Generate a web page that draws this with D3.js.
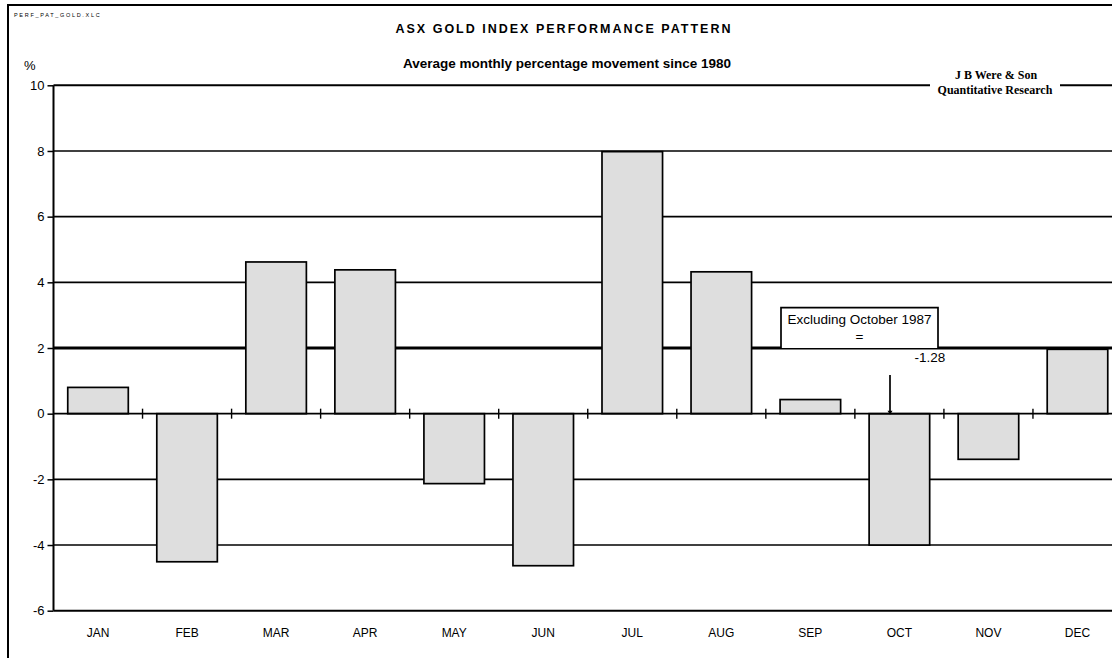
<!DOCTYPE html>
<html>
<head>
<meta charset="utf-8">
<script src="https://cdn.jsdelivr.net/npm/d3@7"></script>
<style>
  html, body { margin: 0; padding: 0; background: #fff; }
  svg { display: block; }
</style>
</head>
<body>
<svg id="chart" width="1112" height="658"></svg>
<script>
// Average monthly % movement of the ASX Gold index since 1980
const months = ["JAN","FEB","MAR","APR","MAY","JUN","JUL","AUG","SEP","OCT","NOV","DEC"];
const avgMove = [0.80, -4.51, 4.62, 4.38, -2.13, -4.63, 7.98, 4.32, 0.43, -4.00, -1.39, 1.96];
const yTicks = [10, 8, 6, 4, 2, 0, -2, -4, -6];
const octExcl1987 = -1.28;

const svg = d3.select("#chart");
const font = "'Liberation Sans', Arial, sans-serif";
const serif = "'Liberation Serif', 'Times New Roman', serif";

// outer frame (runs past the right and bottom edges)
svg.append("path")
  .attr("d", "M8,700 L8,5 L1130,5")
  .attr("fill", "none").attr("stroke", "#000").attr("stroke-width", 2);

const x = d3.scaleBand().domain(months).range([53.5, 1122])
  .paddingInner(0.32).paddingOuter(0.16);
const y = d3.scaleLinear().domain([-6, 10]).range([610.7, 85.3]);

const plotL = 53.5, plotR = 1122;

// horizontal grid lines
const grid = svg.append("g");
grid.selectAll("line").data(yTicks.filter(v => v !== 0)).join("line")
  .attr("x1", plotL).attr("x2", plotR)
  .attr("y1", d => y(d)).attr("y2", d => y(d))
  .attr("stroke", "#000")
  .attr("stroke-width", d => d === 2 ? 3 : (d === 10 || d === -6 ? 2 : 1.6));

// bars
svg.append("g").selectAll("rect").data(months).join("rect")
  .attr("x", d => x(d))
  .attr("width", x.bandwidth())
  .attr("y", (d, i) => y(Math.max(0, avgMove[i])))
  .attr("height", (d, i) => Math.abs(y(avgMove[i]) - y(0)))
  .attr("fill", "#dedede")
  .attr("stroke", "#000")
  .attr("stroke-width", 1.7);

// zero line with category separators
svg.append("line")
  .attr("x1", plotL).attr("x2", plotR)
  .attr("y1", y(0)).attr("y2", y(0))
  .attr("stroke", "#000").attr("stroke-width", 1.7);
svg.append("g").selectAll("line").data(months.slice(1)).join("line")
  .attr("x1", d => x(d) - x.step() * x.paddingInner() / 2)
  .attr("x2", d => x(d) - x.step() * x.paddingInner() / 2)
  .attr("y1", y(0) - 5).attr("y2", y(0) + 5)
  .attr("stroke", "#000").attr("stroke-width", 1.4);

// y axis
const yAxis = d3.axisLeft(y).tickValues(yTicks).tickSize(6).tickPadding(3)
  .tickFormat(d3.format("d"));
const ya = svg.append("g").attr("transform", `translate(${plotL},0)`).call(yAxis);
ya.select(".domain").attr("stroke-width", 2).attr("d", `M0,${y(10)}V${y(-6)}`);
ya.selectAll(".tick line").attr("stroke-width", 1.5);
ya.selectAll("text").attr("font-family", font).attr("font-size", 13).attr("fill", "#000")
  .text(d => d < 0 ? "-" + Math.abs(d) : d);

// month labels
svg.append("g").selectAll("text").data(months).join("text")
  .attr("x", d => x(d) + x.bandwidth() / 2)
  .attr("y", 637)
  .attr("text-anchor", "middle")
  .attr("font-family", font).attr("font-size", 12)
  .text(d => d);

// titles
svg.append("text").attr("x", 14).attr("y", 17)
  .attr("font-family", font).attr("font-size", 5.5).attr("letter-spacing", 1.7)
  .text("PERF_PAT_GOLD.XLC");
svg.append("text").attr("x", 564).attr("y", 33).attr("text-anchor", "middle")
  .attr("font-family", font).attr("font-size", 12.5).attr("font-weight", "bold")
  .attr("letter-spacing", 2.0)
  .text("ASX GOLD INDEX PERFORMANCE PATTERN");
svg.append("text").attr("x", 567).attr("y", 68).attr("text-anchor", "middle")
  .attr("font-family", font).attr("font-size", 13.5).attr("font-weight", "bold")
  .text("Average monthly percentage movement since 1980");
svg.append("text").attr("x", 24).attr("y", 70)
  .attr("font-family", font).attr("font-size", 13).text("%");

// credit block
svg.append("rect").attr("x", 930).attr("y", 66).attr("width", 130).attr("height", 32).attr("fill", "#fff");
svg.append("text").attr("x", 996).attr("y", 79).attr("text-anchor", "middle")
  .attr("font-family", serif).attr("font-size", 12).attr("font-weight", "bold")
  .text("J B Were & Son");
svg.append("text").attr("x", 995).attr("y", 94).attr("text-anchor", "middle")
  .attr("font-family", serif).attr("font-size", 12).attr("font-weight", "bold")
  .text("Quantitative Research");

// October note
const boxX = 781, boxW = 157, boxTop = 307.7;
svg.append("path")
  .attr("d", `M${boxX},${y(2)}V${boxTop}H${boxX + boxW}V${y(2)}`)
  .attr("fill", "#fff").attr("stroke", "#000").attr("stroke-width", 1.7);
svg.append("text").attr("x", boxX + boxW / 2).attr("y", 324).attr("text-anchor", "middle")
  .attr("font-family", font).attr("font-size", 13.5).text("Excluding October 1987");
svg.append("text").attr("x", boxX + boxW / 2).attr("y", 341).attr("text-anchor", "middle")
  .attr("font-family", font).attr("font-size", 13.5).text("=");
svg.append("text").attr("x", 930).attr("y", 362).attr("text-anchor", "middle")
  .attr("font-family", font).attr("font-size", 13.5).text(d3.format(".2f")(octExcl1987).replace("−", "-"));
const px = 890;
svg.append("line").attr("x1", px).attr("x2", px).attr("y1", 375).attr("y2", y(0))
  .attr("stroke", "#000").attr("stroke-width", 1.7);
svg.append("path").attr("d", `M${px - 2.5},${y(0) - 3}L${px + 2.5},${y(0) - 3}L${px},${y(0) + 1}Z`).attr("fill", "#000");
</script>
</body>
</html>
